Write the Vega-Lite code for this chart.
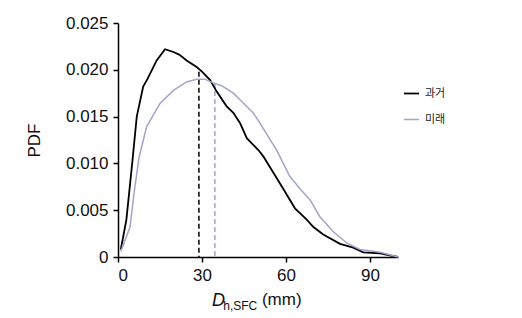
{
  "$schema": "https://vega.github.io/schema/vega-lite/v6.json",
  "width": 280,
  "height": 234,
  "autosize": {"type": "none"},
  "padding": {"left": 118, "top": 23, "right": 124, "bottom": 61},
  "background": "white",
  "config": {
    "view": {"stroke": null},
    "font": "Liberation Sans",
    "axis": {
      "grid": false,
      "domainColor": "#000000",
      "domainWidth": 1.5,
      "tickColor": "#000000",
      "tickWidth": 1.5,
      "tickSize": 5,
      "labelFont": "Liberation Sans",
      "labelFontSize": 17,
      "labelColor": "#111111",
      "titleFont": "Liberation Sans",
      "titleFontSize": 17,
      "titleFontWeight": "normal",
      "titleColor": "#111111"
    }
  },
  "datasets": {
    "curves": [
      {"x": 1, "y": 0.0008, "s": "과거"},
      {"x": 3, "y": 0.004, "s": "과거"},
      {"x": 5.2, "y": 0.0104, "s": "과거"},
      {"x": 6.7, "y": 0.015, "s": "과거"},
      {"x": 9, "y": 0.0182, "s": "과거"},
      {"x": 10.5, "y": 0.019, "s": "과거"},
      {"x": 13.8, "y": 0.021, "s": "과거"},
      {"x": 16.8, "y": 0.0222, "s": "과거"},
      {"x": 19.8, "y": 0.0219, "s": "과거"},
      {"x": 22, "y": 0.0216, "s": "과거"},
      {"x": 24.5, "y": 0.021, "s": "과거"},
      {"x": 28.1, "y": 0.0203, "s": "과거"},
      {"x": 30, "y": 0.0198, "s": "과거"},
      {"x": 32.9, "y": 0.0189, "s": "과거"},
      {"x": 35.2, "y": 0.0177, "s": "과거"},
      {"x": 38.8, "y": 0.0161, "s": "과거"},
      {"x": 41.2, "y": 0.0154, "s": "과거"},
      {"x": 43.6, "y": 0.0143, "s": "과거"},
      {"x": 46, "y": 0.0127, "s": "과거"},
      {"x": 50.5, "y": 0.0113, "s": "과거"},
      {"x": 52, "y": 0.0107, "s": "과거"},
      {"x": 54.9, "y": 0.0093, "s": "과거"},
      {"x": 59, "y": 0.0073, "s": "과거"},
      {"x": 63.2, "y": 0.0052, "s": "과거"},
      {"x": 67.4, "y": 0.004, "s": "과거"},
      {"x": 69.8, "y": 0.0032, "s": "과거"},
      {"x": 73.3, "y": 0.0024, "s": "과거"},
      {"x": 79.3, "y": 0.0014, "s": "과거"},
      {"x": 84, "y": 0.001, "s": "과거"},
      {"x": 87.6, "y": 0.0005, "s": "과거"},
      {"x": 93.6, "y": 0.0004, "s": "과거"},
      {"x": 100, "y": 0, "s": "과거"},
      {"x": 1, "y": 0.0006, "s": "미래"},
      {"x": 4.3, "y": 0.0032, "s": "미래"},
      {"x": 5.8, "y": 0.007, "s": "미래"},
      {"x": 7.5, "y": 0.0106, "s": "미래"},
      {"x": 10.2, "y": 0.0139, "s": "미래"},
      {"x": 15, "y": 0.0164, "s": "미래"},
      {"x": 19.8, "y": 0.0178, "s": "미래"},
      {"x": 24.5, "y": 0.0187, "s": "미래"},
      {"x": 28.1, "y": 0.019, "s": "미래"},
      {"x": 31, "y": 0.019, "s": "미래"},
      {"x": 34, "y": 0.0186, "s": "미래"},
      {"x": 37, "y": 0.0183, "s": "미래"},
      {"x": 41.2, "y": 0.0175, "s": "미래"},
      {"x": 43.6, "y": 0.0168, "s": "미래"},
      {"x": 48.3, "y": 0.0154, "s": "미래"},
      {"x": 50.7, "y": 0.0143, "s": "미래"},
      {"x": 56.7, "y": 0.0114, "s": "미래"},
      {"x": 61.4, "y": 0.0086, "s": "미래"},
      {"x": 65, "y": 0.0073, "s": "미래"},
      {"x": 68.6, "y": 0.0061, "s": "미래"},
      {"x": 72.1, "y": 0.0043, "s": "미래"},
      {"x": 76.9, "y": 0.0027, "s": "미래"},
      {"x": 81.7, "y": 0.0015, "s": "미래"},
      {"x": 86.4, "y": 0.0008, "s": "미래"},
      {"x": 93.6, "y": 0.0005, "s": "미래"},
      {"x": 100, "y": 0, "s": "미래"}
    ],
    "means": [
      {"x": 28.9, "y": 0.0198, "s": "과거"},
      {"x": 34.6, "y": 0.0186, "s": "미래"}
    ],
    "xtitle": [
      {"part": "D"}
    ]
  },
  "layer": [
    {
      "data": {"name": "means"},
      "mark": {"type": "rule", "strokeDash": [5, 3], "strokeWidth": 1.5},
      "encoding": {
        "x": {"field": "x", "type": "quantitative"},
        "y": {"field": "y", "type": "quantitative"},
        "y2": {"datum": 0},
        "color": {"field": "s", "type": "nominal"}
      }
    },
    {
      "data": {"name": "curves"},
      "mark": {"type": "line"},
      "encoding": {
        "x": {
          "field": "x",
          "type": "quantitative",
          "scale": {"domain": [0, 100], "nice": false},
          "axis": {"values": [0, 30, 60, 90], "title": null, "labelPadding": 5}
        },
        "y": {
          "field": "y",
          "type": "quantitative",
          "scale": {"domain": [0, 0.025], "nice": false},
          "axis": {
            "values": [0, 0.005, 0.01, 0.015, 0.02, 0.025],
            "labelExpr": "datum.value == 0 ? '0' : format(datum.value, '.3f')",
            "title": "PDF",
            "titlePadding": 22,
            "labelPadding": 5
          }
        },
        "color": {
          "field": "s",
          "type": "nominal",
          "scale": {"domain": ["과거", "미래"], "range": ["#000000", "#a3a3cc"]},
          "legend": {
            "title": null,
            "orient": "none",
            "legendX": 285,
            "legendY": 62,
            "symbolType": "stroke",
            "symbolSize": 225,
            "symbolStrokeWidth": 2,
            "labelFont": "Noto Sans CJK KR",
            "labelFontSize": 11,
            "labelColor": "#222222",
            "labelOffset": 5,
            "rowPadding": 12
          }
        },
        "strokeWidth": {
          "field": "s",
          "type": "nominal",
          "scale": {"domain": ["과거", "미래"], "range": [1.8, 1.5]},
          "legend": null
        }
      }
    },
    {
      "data": {"name": "xtitle"},
      "mark": {"type": "text", "text": "D", "fontStyle": "italic", "fontSize": 18, "align": "left", "baseline": "alphabetic", "dy": 49, "font": "Liberation Sans", "color": "#111111"},
      "encoding": {"x": {"datum": 33.6}, "y": {"datum": 0}}
    },
    {
      "data": {"name": "xtitle"},
      "mark": {"type": "text", "text": "h,SFC", "fontSize": 12, "align": "left", "baseline": "alphabetic", "dy": 53, "font": "Liberation Sans", "color": "#111111"},
      "encoding": {"x": {"datum": 37.6}, "y": {"datum": 0}}
    },
    {
      "data": {"name": "xtitle"},
      "mark": {"type": "text", "text": "(mm)", "fontSize": 17, "align": "left", "baseline": "alphabetic", "dy": 48, "font": "Liberation Sans", "color": "#111111"},
      "encoding": {"x": {"datum": 51.4}, "y": {"datum": 0}}
    }
  ]
}
